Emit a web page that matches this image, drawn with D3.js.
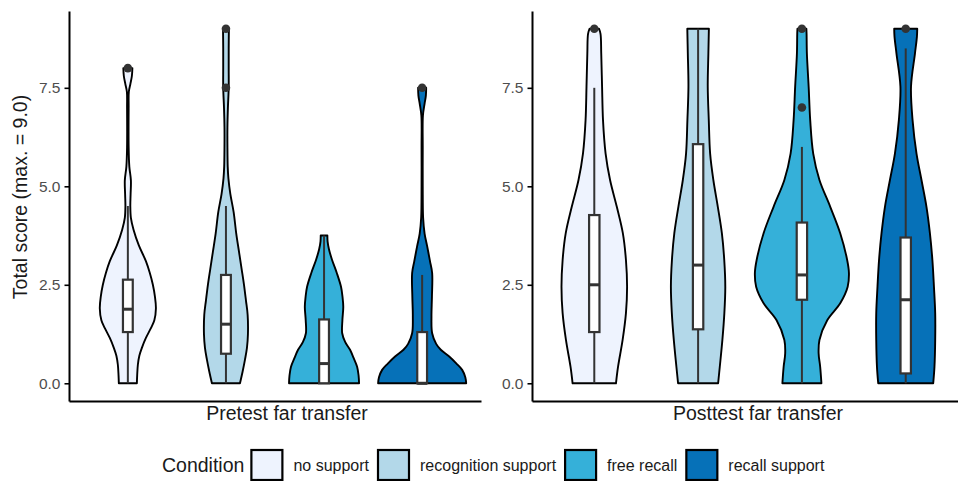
<!DOCTYPE html>
<html lang="en">
<head>
<meta charset="UTF-8">
<title>Far transfer scores by condition</title>
<style>
  body { margin: 0; background: #fff; }
  text { font-family: "Liberation Sans", Arial, sans-serif; }
  .axis path, .axis line { stroke: #000; }
  .axis text { fill: #4d4d4d; font-size: 15.5px; }
</style>
</head>
<body>
<svg id="chart" width="958" height="481"></svg>
<script src="https://cdn.jsdelivr.net/npm/d3@7"></script>
<script>
// conditions and their fills
var groups = ["no support", "recognition support", "free recall", "recall support"];
var fills = ["#eef3fe", "#b3d8e9", "#35b0d9", "#0671b8"];
var tests = ["Pretest far transfer", "Posttest far transfer"];
var yTicks = [0, 2.5, 5, 7.5];

// violin outlines: [score, half width in category units]
var preViolin = [
  [[0,0.092],[0.2,0.095],[0.47,0.102],[0.7,0.117],[0.9,0.143],[1.15,0.184],[1.4,0.235],[1.6,0.27],[1.9,0.286],[2.2,0.276],[2.5,0.255],[2.8,0.224],[3.1,0.184],[3.5,0.112],[3.9,0.058],[4.2,0.031],[4.5,0.025],[4.8,0.028],[5.15,0.031],[5.5,0.015],[6.0,0.008],[7.0,0.008],[7.4,0.01],[7.6,0.026],[7.8,0.041],[8.0,0.046]],
  [[0,0.143],[0.3,0.17],[0.6,0.194],[0.9,0.214],[1.24,0.224],[1.74,0.221],[2.1,0.204],[2.5,0.184],[2.9,0.16],[3.34,0.133],[3.8,0.105],[4.35,0.078],[4.8,0.045],[5.2,0.025],[5.5,0.018],[6.0,0.015],[6.5,0.015],[7.0,0.02],[7.5,0.028],[8.0,0.028],[8.5,0.028],[9.0,0.03]],
  [[0,0.357],[0.2,0.352],[0.42,0.337],[0.65,0.3],[0.85,0.265],[1.05,0.215],[1.27,0.185],[1.6,0.187],[1.94,0.196],[2.2,0.188],[2.45,0.173],[2.8,0.13],[3.13,0.082],[3.4,0.05],[3.6,0.036],[3.75,0.034]],
  [[0,0.449],[0.15,0.44],[0.34,0.408],[0.5,0.35],[0.68,0.276],[0.85,0.19],[1.0,0.143],[1.27,0.102],[1.7,0.095],[2.2,0.1],[2.8,0.102],[3.1,0.08],[3.48,0.051],[3.8,0.025],[4.2,0.01],[5,0.006],[6,0.006],[6.8,0.008],[7.1,0.025],[7.3,0.038],[7.5,0.041]]
];
var postViolin = [
  [[0,0.209],[0.42,0.229],[1.1,0.273],[1.78,0.305],[2.45,0.316],[3.13,0.305],[3.81,0.275],[4.48,0.217],[5.16,0.152],[5.83,0.109],[6.68,0.084],[7.53,0.075],[8.37,0.067],[8.87,0.06],[9,0.045]],
  [[0,0.193],[0.42,0.209],[1.1,0.234],[1.78,0.253],[2.45,0.262],[3.13,0.252],[3.81,0.229],[4.48,0.19],[5.16,0.147],[5.83,0.116],[6.68,0.103],[7.53,0.093],[8.37,0.099],[9,0.104]],
  [[0,0.188],[0.42,0.176],[0.76,0.161],[1.1,0.169],[1.6,0.244],[2.03,0.369],[2.45,0.441],[2.8,0.453],[3.13,0.436],[3.81,0.369],[4.48,0.273],[5.16,0.169],[5.83,0.109],[6.68,0.08],[7.53,0.065],[8.37,0.048],[8.87,0.045],[9,0.043]],
  [[0,0.265],[0.42,0.277],[1.1,0.284],[1.78,0.284],[2.45,0.272],[3.13,0.257],[3.81,0.233],[4.48,0.2],[5.16,0.152],[5.83,0.104],[6.68,0.066],[7.53,0.051],[8.37,0.089],[8.8,0.108],[9,0.111]]
];

// box plot statistics per condition
var preLow = [0, 0, 0, 0];
var preQ1 = [1.3, 0.75, 0, 0];
var preMedian = [1.88, 1.5, 0.5, 0];
var preQ3 = [2.63, 2.75, 1.62, 1.3];
var preHigh = [4.5, 4.5, 3.75, 2.75];
var preOutliers = [[8], [7.5, 9], [], [7.5]];

var postLow = [0, 0, 0, 0];
var postQ1 = [1.3, 1.37, 2.12, 0.25];
var postMedian = [2.5, 3.0, 2.75, 2.12];
var postQ3 = [4.27, 6.07, 4.08, 3.7];
var postHigh = [7.5, 9, 6.0, 8.5];
var postOutliers = [[9], [], [7, 9], [9]];

var svg = d3.select("#chart");

var y = d3.scaleLinear().domain([-0.45, 9.45]).range([401, 11]);

var panels = [
  { title: tests[0], range: [69, 481], titleX: 287, violin: preViolin,
    low: preLow, q1: preQ1, med: preMedian, q3: preQ3, high: preHigh, out: preOutliers },
  { title: tests[1], range: [532, 968], titleX: 758, violin: postViolin,
    low: postLow, q1: postQ1, med: postMedian, q3: postQ3, high: postHigh, out: postOutliers }
];

panels.forEach(function(p) {
  var x = d3.scalePoint().domain(groups).range(p.range).padding(0.6);
  var step = x.step();
  var g = svg.append("g");

  var area = d3.area()
    .curve(d3.curveCatmullRom)
    .y(function(d) { return y(d[0]); });

  groups.forEach(function(name, i) {
    var cx = x(name);
    area.x0(function(d) { return cx - d[1] * step; })
        .x1(function(d) { return cx + d[1] * step; });

    g.append("path")
      .attr("d", area(p.violin[i]))
      .attr("fill", fills[i])
      .attr("stroke", "#000")
      .attr("stroke-width", 1.9)
      .attr("stroke-linejoin", "round");

    var bw = 0.1 * step;
    // whiskers
    g.append("line")
      .attr("x1", cx).attr("x2", cx)
      .attr("y1", y(p.high[i])).attr("y2", y(p.q3[i]))
      .attr("stroke", "#333").attr("stroke-width", 2);
    g.append("line")
      .attr("x1", cx).attr("x2", cx)
      .attr("y1", y(p.q1[i])).attr("y2", y(p.low[i]))
      .attr("stroke", "#333").attr("stroke-width", 2);
    // box
    g.append("rect")
      .attr("x", cx - bw / 2)
      .attr("width", bw)
      .attr("y", y(p.q3[i]))
      .attr("height", y(p.q1[i]) - y(p.q3[i]))
      .attr("fill", "#fff")
      .attr("stroke", "#333")
      .attr("stroke-width", 2.2);
    g.append("line")
      .attr("x1", cx - bw / 2).attr("x2", cx + bw / 2)
      .attr("y1", y(p.med[i])).attr("y2", y(p.med[i]))
      .attr("stroke", "#333").attr("stroke-width", 3);

    g.selectAll(null)
      .data(p.out[i])
      .enter().append("circle")
      .attr("cx", cx)
      .attr("cy", function(d) { return y(d); })
      .attr("r", 4.3)
      .attr("fill", "#333");
  });

  // axes
  var ya = g.append("g")
    .attr("class", "axis")
    .attr("transform", "translate(" + p.range[0] + ",0)")
    .call(d3.axisLeft(y).tickValues(yTicks).tickFormat(d3.format(".1f")).tickSize(4.5).tickSizeOuter(0).tickPadding(4));
  ya.select(".domain").attr("stroke-width", 2);
  ya.selectAll(".tick line").attr("stroke", "#333").attr("stroke-width", 1.6);

  var xa = g.append("g")
    .attr("class", "axis")
    .attr("transform", "translate(0,401)")
    .call(d3.axisBottom(x).tickValues([]).tickSizeOuter(0));
  xa.select(".domain").attr("stroke-width", 2);

  g.append("text")
    .attr("x", p.titleX)
    .attr("y", 420)
    .attr("text-anchor", "middle")
    .style("font-size", "19.5px")
    .style("fill", "#1a1a1a")
    .text(p.title);
});

// y axis title
svg.append("text")
  .attr("transform", "translate(27,197) rotate(-90)")
  .attr("text-anchor", "middle")
  .style("font-size", "19.5px")
  .style("fill", "#1a1a1a")
  .text("Total score (max. = 9.0)");

// legend
var legend = svg.append("g");
var lx = 162;
var title = legend.append("text")
  .attr("x", lx).attr("y", 472)
  .style("font-size", "19.5px")
  .style("fill", "#1a1a1a")
  .text("Condition");
lx += title.node().getComputedTextLength() + 7;

groups.forEach(function(name, i) {
  legend.append("rect")
    .attr("x", lx).attr("y", 450)
    .attr("width", 31).attr("height", 30)
    .attr("fill", fills[i])
    .attr("stroke", "#000")
    .attr("stroke-width", 2.2);
  lx += 31 + 11;
  var t = legend.append("text")
    .attr("x", lx).attr("y", 470.5)
    .style("font-size", "16px")
    .style("fill", "#1a1a1a")
    .text(name);
  lx += t.node().getComputedTextLength() + 9;
});
</script>
</body>
</html>
